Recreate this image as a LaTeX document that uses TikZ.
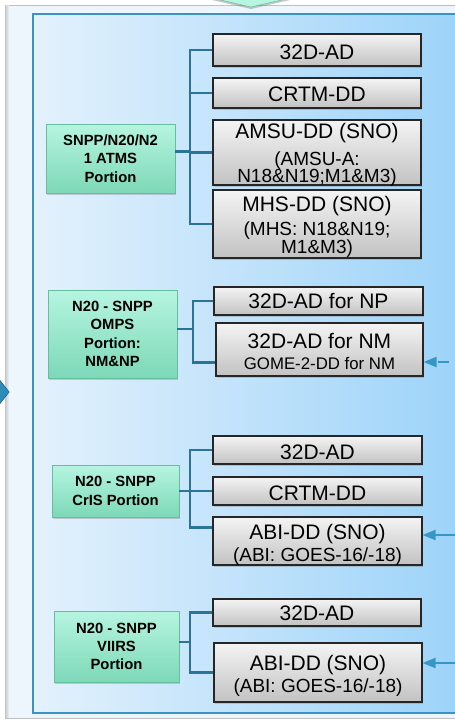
\documentclass[tikz,border=0pt]{standalone}
\usepackage{fontspec}
\setmainfont{Liberation Sans}
\usetikzlibrary{shadows,arrows.meta,calc}
\definecolor{connc}{HTML}{2A7597}
\definecolor{arrc}{HTML}{3797C4}
\definecolor{inbord}{HTML}{3A93C3}
\definecolor{inleft}{HTML}{E3F1FC}
\definecolor{inright}{HTML}{9CD3F9}
\definecolor{outfill}{HTML}{EDF6FD}
\definecolor{outshade}{HTML}{C8CDD2}
\definecolor{gtop}{HTML}{B6F5E0}
\definecolor{gbot}{HTML}{7DD8B8}
\definecolor{gbord}{HTML}{66BE9E}
\definecolor{btop}{HTML}{F4F4F4}
\definecolor{bbot}{HTML}{C2C2C2}
\definecolor{chevfill}{HTML}{2F8CB8}
\definecolor{chevdraw}{HTML}{1F6E96}
\tikzset{
  greenbox/.style={rectangle, top color=gtop, bottom color=gbot, draw=gbord, line width=0.6pt,
    drop shadow={opacity=0.35, shadow xshift=1.2pt, shadow yshift=-1.5pt},
    font=\fontsize{14.8}{18.3}\selectfont\bfseries, align=center, inner sep=0pt, text=black},
  graybox/.style={rectangle, top color=btop, bottom color=bbot, draw=black!85, line width=1.1pt,
    drop shadow={opacity=0.35, shadow xshift=1pt, shadow yshift=-2pt}, inner sep=0pt},
  maintext/.style={anchor=base, inner sep=0pt, font=\fontsize{21}{24}\selectfont, text=black},
  subtext/.style={anchor=base, inner sep=0pt, font=\fontsize{19}{22}\selectfont, text=black},
  smalltext/.style={anchor=base, inner sep=0pt, font=\fontsize{16.8}{19}\selectfont, text=black},
  connline/.style={draw=connc, line width=2.8pt, line join=miter},
  inarrow/.style={draw=arrc, line width=2pt, -{Triangle[length=13pt,width=10pt]}}
}
\begin{document}
\begin{tikzpicture}[x=1pt,y=-1pt]
\useasboundingbox (0,0) rectangle (455,720);
% outer panel
\fill[outfill] (5,5) rectangle (470,718);
\draw[black!25, line width=1pt] (5,5) rectangle (470,718);
\shade[left color=outshade, right color=outfill] (5.5,5.5) rectangle (9,717.5);
% top green arrow
\filldraw[fill=gtop, draw=gbord, line width=0.5pt, drop shadow={opacity=0.45, shadow xshift=0pt, shadow yshift=-2pt}] (212,-2) -- (290,-2) -- (251,7) -- cycle;
% left blue chevron
\filldraw[fill=chevfill, draw=chevdraw, line width=0.8pt] (-2,378) -- (9,392) -- (-2,406) -- cycle;
% inner panel
\shade[left color=inleft, right color=inright] (33,14) rectangle (465,713);
\draw[inbord, line width=1.4pt] (33,14) rectangle (465,713);

% green boxes
\node[greenbox, minimum width=129pt, minimum height=69pt] (g1) at (110.5,158.5) {SNPP/N20/N2\\1 ATMS\\Portion};
\node[greenbox, minimum width=129pt, minimum height=88pt] (g2) at (112.5,334) {N20 - SNPP\\OMPS\\Portion:\\NM\&NP};
\node[greenbox, minimum width=127pt, minimum height=52pt] (g3) at (115.5,491) {N20 - SNPP\\CrIS Portion};
\node[greenbox, minimum width=125pt, minimum height=71pt] (g4) at (116.5,646.5) {N20 - SNPP\\VIIRS\\Portion};

% gray boxes
\node[graybox, minimum width=208pt, minimum height=32pt] (a1) at (317,50) {};
\node[graybox, minimum width=208pt, minimum height=30pt] (a2) at (317,93) {};
\node[graybox, minimum width=208pt, minimum height=65pt] (a3) at (317,152.5) {};
\node[graybox, minimum width=208pt, minimum height=68pt] (a4) at (317,224) {};
\node[graybox, minimum width=209pt, minimum height=28pt] (b1) at (318.5,301) {};
\node[graybox, minimum width=207pt, minimum height=53pt] (b2) at (319.5,349.5) {};
\node[graybox, minimum width=209pt, minimum height=28pt] (c1) at (317.5,450) {};
\node[graybox, minimum width=209pt, minimum height=28pt] (c2) at (317.5,491) {};
\node[graybox, minimum width=209pt, minimum height=48pt] (c3) at (317.5,541) {};
\node[graybox, minimum width=208pt, minimum height=27pt] (d1) at (317,612.5) {};
\node[graybox, minimum width=208pt, minimum height=59pt] (d2) at (318,672.5) {};

% texts in gray boxes
\node[maintext] (a1t) at (317,59.3) {32D-AD};
\node[maintext] (a2t) at (317,101.7) {CRTM-DD};
\node[maintext] (a3t) at (317,138.3) {AMSU-DD (SNO)};
\node[subtext] (a3u) at (317,165) {(AMSU-A:};
\node[subtext] (a3v) at (317,182.7) {N18\&N19;M1\&M3)};
\node[maintext] (a4t) at (317,211.7) {MHS-DD (SNO)};
\node[subtext] (a4u) at (317,235) {(MHS: N18\&N19;};
\node[subtext] (a4v) at (317,253.3) {M1\&M3)};
\node[maintext] (b1t) at (318.5,308.3) {32D-AD for NP};
\node[maintext] (b2t) at (319.5,348.3) {32D-AD for NM};
\node[smalltext] (b2u) at (319.5,369) {GOME-2-DD for NM};
\node[maintext] (c1t) at (317.5,459) {32D-AD};
\node[maintext] (c2t) at (317.5,500) {CRTM-DD};
\node[maintext] (c3t) at (317.5,539) {ABI-DD (SNO)};
\node[subtext] (c3u) at (317.5,561.7) {(ABI: GOES-16/-18)};
\node[maintext] (d1t) at (317,620) {32D-AD};
\node[maintext] (d2t) at (318,670) {ABI-DD (SNO)};
\node[subtext] (d2u) at (318,692.3) {(ABI: GOES-16/-18)};

% connectors group 1
\coordinate (t1) at (190,0);
\coordinate (g1j) at ([yshift=7pt]g1.east);
\draw[connline] (a1.west) -- (t1 |- a1.west) -- (t1 |- a4.west) -- (a4.west);
\draw[connline] (t1 |- a2.west) -- (a2.west);
\draw[connline] (t1 |- a3.west) -- (a3.west);
\draw[connline] (g1j) -- (t1 |- g1j);
% group 2
\coordinate (t2) at (193,0);
\coordinate (b2j) at ([yshift=14pt]b2.south west);
\coordinate (g2j) at ([yshift=5pt]g2.east);
\draw[connline] (b1.west) -- (t2 |- b1.west) -- (t2 |- b2j) -- (b2j);
\draw[connline] (g2j) -- (t2 |- g2j);
% group 3
\coordinate (t3) at (190,0);
\coordinate (c3j) at ([yshift=-11pt]c3.north west);
\draw[connline] (c1.west) -- (t3 |- c1.west) -- (t3 |- c3j) -- (c3j);
\draw[connline] (t3 |- c2.west) -- (c2.west);
\draw[connline] (g3.east) -- (t3 |- g3.east);
% group 4
\coordinate (t4) at (190,0);
\coordinate (g4j) at ([yshift=4.5pt]g4.east);
\draw[connline] (d1.west) -- (t4 |- d1.west) -- (t4 |- d2.west) -- (d2.west);
\draw[connline] (g4j) -- (t4 |- g4j);

% incoming arrows from the right
\coordinate (in2) at (449,362);
\coordinate (in3) at (462,535);
\coordinate (in4) at (462,663);
\draw[inarrow, dash pattern=on 11pt off 20pt] (in2) -- (b2.east |- in2);
\draw[inarrow] (in3) -- (c3.east |- in3);
\draw[inarrow] (in4) -- (d2.east |- in4);
\end{tikzpicture}
\end{document}
